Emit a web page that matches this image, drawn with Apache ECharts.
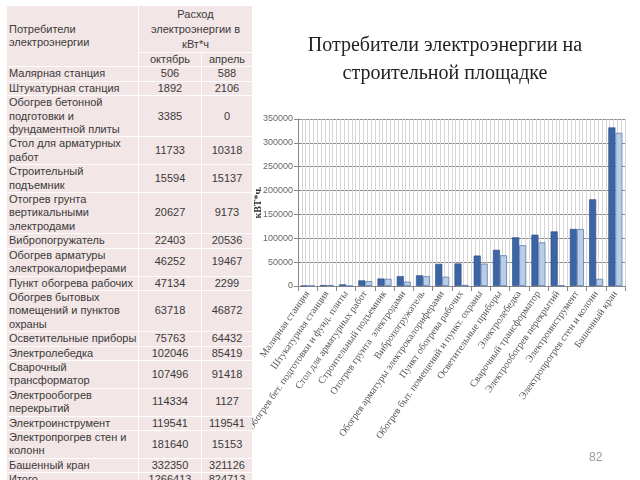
<!DOCTYPE html>
<html>
<head>
<meta charset="utf-8">
<script src="https://cdn.jsdelivr.net/npm/echarts@6/dist/echarts.min.js"></script>
<style>
  html, body { margin: 0; padding: 0; background: #fff; }
  #wrap { position: relative; width: 640px; height: 480px; overflow: hidden; }
  #chart { position: absolute; left: 0; top: 0; width: 640px; height: 480px; }
  #table {
    position: absolute; left: 7px; top: 6px;
    display: grid; grid-template-columns: 131px 62px 50px;
    column-gap: 1px; row-gap: 1px; background: #fff;
    font-family: "Liberation Sans", Arial, sans-serif; font-size: 11px; color: #3a3a3a;
  }
  #table div { background: #f2e6e6; line-height: 13.4px; white-space: pre; }
  #table .n { padding-left: 2px; }
  #table .v { text-align: center; display: flex; align-items: center; justify-content: center; }
  #table .h1 { display: flex; align-items: center; padding-left: 2px; }
  #table .h2 { text-align: center; line-height: 15px; padding-top: 1px; }
  #table .h3 { text-align: center; }
  #page { position: absolute; left: 589px; top: 450px; font-family: "Liberation Sans", Arial, sans-serif; font-size: 12px; color: #999; }
</style>
</head>
<body>
<div id="wrap">
  <div id="chart"></div>
  <div id="table"></div>
  <div id="page">82</div>
</div>
<script>
// ---- data ----
const tableNames = [
  "Малярная станция",
  "Штукатурная станция",
  "Обогрев бетонной\nподготовки и\nфундаментной плиты",
  "Стол для арматурных\nработ",
  "Строительный\nподъемник",
  "Отогрев грунта\nвертикальными\nэлектродами",
  "Вибропогружатель",
  "Обогрев арматуры\nэлектрокалориферами",
  "Пункт обогрева рабочих",
  "Обогрев бытовых\nпомещений и пунктов\nохраны",
  "Осветительные приборы",
  "Электролебедка",
  "Сварочный\nтрансформатор",
  "Электрообогрев\nперекрытий",
  "Электроинструмент",
  "Электропрогрев стен и\nколонн",
  "Башенный кран"
];
const chartLabels = [
  "Малярная станция",
  "Штукатурная станция",
  "Обогрев бет. подготовки и фунд. плиты",
  "Стол для арматурных работ",
  "Строительный подъемник",
  "Отогрев грунта  электродами",
  "Вибропогружатель",
  "Обогрев арматуры электрокалориферами",
  "Пункт обогрева рабочих",
  "Обогрев быт. помещений и пункт. охраны",
  "Осветительные приборы",
  "Электролебедка",
  "Сварочный трансформатор",
  "Электрообогрев перекрытий",
  "Электроинструмент",
  "Электропрогрев стен и колонн",
  "Башенный кран"
];
const october = [506, 1892, 3385, 11733, 15594, 20627, 22403, 46252, 47134, 63718, 75763, 102046, 107496, 114334, 119541, 181640, 332350];
const april   = [588, 2106, 0, 10318, 15137, 9173, 20536, 19467, 2299, 46872, 64432, 85419, 91418, 1127, 119541, 15153, 321126];
const totalLabel = "Итого";
const totals = [1266413, 824713];
const headerName = "Потребители\nэлектроэнергии";
const headerValue = "Расход\nэлектроэнергии в\nкВт*ч";
const monthLabels = ["октябрь", "апрель"];
const yTicks = [0, 50000, 100000, 150000, 200000, 250000, 300000, 350000];
const chartTitle = "Потребители электроэнергии на\nстроительной площадке";
const yName = "кВТ*ч.";

// ---- table ----
const t = document.getElementById('table');
function cell(txt, cls, style) {
  const d = document.createElement('div');
  d.className = cls; d.textContent = txt;
  if (style) d.setAttribute('style', style);
  t.appendChild(d);
}
cell(headerName, 'h1', 'grid-row: span 2;');
cell(headerValue, 'h2', 'grid-column: span 2;');
cell(monthLabels[0], 'h3');
cell(monthLabels[1], 'h3');
tableNames.forEach((n, i) => {
  cell(n, 'n');
  cell(String(october[i]), 'v');
  cell(String(april[i]), 'v');
});
cell(totalLabel, 'n');
cell(String(totals[0]), 'v');
cell(String(totals[1]), 'v');

// ---- chart ----
const chart = echarts.init(document.getElementById('chart'));
const minorPerCat = 5;
chart.setOption({
  animation: false,
  title: {
    text: chartTitle,
    left: 440, top: 27, textAlign: 'center',
    textStyle: { fontFamily: 'Liberation Serif', fontSize: 20, fontWeight: 'normal', color: '#222', lineHeight: 28 }
  },
  grid: { left: 298, right: 15, top: 119, bottom: 194 },
  xAxis: [
    {
      type: 'category', data: chartLabels, position: 'bottom',
      axisLine: { lineStyle: { color: '#888' } },
      axisTick: { show: true, interval: 0, length: 5, lineStyle: { color: '#888' } },
      axisLabel: { interval: 0, rotate: 55, fontFamily: 'Liberation Serif', fontSize: 10, color: '#555', margin: 6 },
      splitLine: { show: false }
    },
    {
      type: 'value', position: 'top', min: 0, max: chartLabels.length * minorPerCat, interval: 1,
      axisLine: { show: false }, axisTick: { show: false }, axisLabel: { show: false },
      splitLine: { show: true, lineStyle: { color: '#d6d6d6', width: 1 } }
    }
  ],
  yAxis: {
    type: 'value', min: 0, max: yTicks[yTicks.length - 1], interval: yTicks[1] - yTicks[0],
    name: yName, nameLocation: 'middle', nameRotate: 90, nameGap: 35, nameMoveOverlap: false,
    nameTextStyle: { fontFamily: 'Liberation Serif', fontSize: 10, fontWeight: 'bold', color: '#333' },
    axisLine: { show: true, lineStyle: { color: '#888' } },
    axisTick: { show: true, length: 4, lineStyle: { color: '#888' } },
    axisLabel: { fontFamily: 'Liberation Sans', fontSize: 9, color: '#666', margin: 5, formatter: v => String(v) },
    splitLine: { lineStyle: { color: '#8c8c8c', width: 1 } }
  },
  series: [
    {
      name: monthLabels[0], type: 'bar', data: october, xAxisIndex: 0,
      barGap: '0%', barCategoryGap: '27%',
      itemStyle: { color: '#3c65a6', borderColor: '#2a4a80', borderWidth: 0.6 }
    },
    {
      name: monthLabels[1], type: 'bar', data: april, xAxisIndex: 0,
      barGap: '0%', barCategoryGap: '27%',
      itemStyle: { color: '#b9cde6', borderColor: '#5b7db2', borderWidth: 0.8 }
    }
  ]
});
</script>
</body>
</html>
